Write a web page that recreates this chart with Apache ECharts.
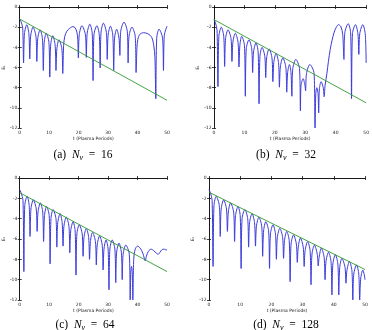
<!DOCTYPE html>
<html><head><meta charset="utf-8">
<script src="https://cdn.jsdelivr.net/npm/echarts@6/dist/echarts.min.js"></script>
<style>html,body{margin:0;padding:0;background:#fff}#c{width:372px;height:330px}</style>
</head><body><div id="c"></div>
<script>
// Energy (log) vs time, as [t, value] points
const curveA = [
[0,-1.2],[0.5,-1.5],[1.0,-2.1],[1.3,-5.55],
[1.6,-2.65],[2.4,-1.75],[3.1,-2.65],[3.4,-5.15],
[3.7,-2.9],[4.5,-2.0],[5.5,-2.9],[5.8,-5.4],
[6.1,-3.15],[6.9,-2.25],[7.7,-3.15],[8.0,-6.3],
[8.3,-3.5],[9.0,-2.6],[9.9,-3.5],[10.2,-6.95],
[10.5,-3.75],[11.2,-2.85],[12.0,-3.75],[12.3,-6.3],
[12.6,-4.15],[13.3,-3.25],[14.3,-4.15],[14.6,-6.6],
[14.9,-3.8],[15.3,-2.9],[16.0,-2.4],[17.0,-2.1],[18.0,-1.95],[18.8,-2.05],[19.4,-2.5],[19.7,-3.2],[19.9,-5.05],
[20.2,-2.75],[21.1,-1.85],[22.3,-2.75],[22.6,-5.0],
[22.9,-2.6],[23.8,-1.7],[24.6,-2.6],[24.9,-7.3],
[25.2,-2.75],[26.2,-1.85],[27.0,-2.75],[27.3,-6.05],
[27.6,-2.5],[28.4,-1.6],[29.4,-2.5],[29.7,-5.2],
[30.0,-2.8],[30.8,-1.9],[31.6,-2.8],[31.9,-6.3],
[32.2,-3.1],[32.9,-2.2],[33.7,-3.1],[34.0,-4.8],
[34.3,-2.4],[35.4,-1.5],[36.5,-2.4],[36.8,-5.55],
[37.1,-2.9],[38.1,-2.0],[39.2,-2.9],[39.5,-6.5],
[39.8,-4.0],[40.1,-3.2],[40.8,-2.7],[42.0,-2.55],[43.5,-2.65],[44.8,-3.0],[45.5,-3.8],[45.9,-5.0],[46.2,-9.1],
[46.5,-3.1],[47.3,-2.2],[48.5,-3.1],[48.8,-6.3],
[49.1,-2.8],[50,-1.9]
];
const curveB = [
[0,-1.25],[0.5,-1.6],[1.0,-2.3],[1.3,-7.9],
[1.6,-2.9],[2.4,-2.0],[3.2,-2.9],[3.5,-5.9],
[3.8,-3.15],[4.6,-2.25],[5.6,-3.15],[5.9,-5.4],
[6.2,-3.5],[7.0,-2.6],[7.9,-3.5],[8.2,-5.95],
[8.5,-3.8],[9.1,-2.9],[10.0,-3.8],[10.3,-8.85],
[10.6,-4.15],[11.5,-3.25],[12.4,-4.15],[12.7,-6.5],
[13.0,-4.45],[13.8,-3.55],[14.5,-4.45],[14.8,-9.6],
[15.1,-4.9],[15.8,-4.0],[16.7,-4.9],[17.0,-7.0],
[17.3,-5.05],[18.1,-4.15],[19.05,-5.05],[19.35,-7.4],
[19.65,-5.5],[20.4,-4.6],[21.2,-5.5],[21.5,-7.95],
[21.8,-5.95],[22.6,-5.05],[23.6,-5.95],[23.9,-8.45],
[24.2,-6.5],[24.8,-5.7],[25.3,-6.5],[25.6,-8.85],
[25.9,-6.1],[26.9,-5.2],[28.1,-6.1],[28.4,-10.3],
[28.6,-7.8],[29.3,-7.1],[29.9,-7.8],[30.1,-8.3],
[30.4,-6.6],[31.5,-5.7],[32.9,-6.6],[33.2,-12],
[33.45,-8.6],[33.8,-8.0],[34.2,-8.6],[34.4,-10.5],
[34.65,-8.1],[35.2,-7.4],[35.9,-8.0],[36.2,-8.9],
[36.5,-7.8],[37.1,-6.6],[37.6,-5.4],[38.2,-4.2],[38.8,-3.3],[39.5,-2.5],[40.2,-2.0],[40.9,-1.75],[41.7,-1.95],[42.3,-2.7],[42.7,-5.2],
[43.0,-2.55],[44.1,-1.65],[44.9,-2.55],[45.2,-9.1],
[45.5,-2.65],[46.5,-1.75],[47.3,-2.65],[47.6,-4.7],
[47.9,-2.65],[48.9,-1.75],[49.7,-2.65],[50,-5.55]
];
const curveC = [
[0,-1.15],[0.5,-1.5],[1.1,-2.2],[1.4,-9.2],
[1.7,-2.7],[2.5,-1.8],[3.2,-2.7],[3.5,-5.75],
[3.8,-3.05],[4.6,-2.15],[5.6,-3.05],[5.9,-5.25],
[6.2,-3.35],[7.0,-2.45],[7.8,-3.35],[8.1,-6.25],
[8.4,-3.7],[9.1,-2.8],[10.0,-3.7],[10.3,-8.45],
[10.6,-4.0],[11.3,-3.1],[12.3,-4.0],[12.6,-6.8],
[12.9,-4.4],[13.7,-3.5],[14.4,-4.4],[14.7,-6.7],
[15.0,-4.75],[15.8,-3.85],[16.7,-4.75],[17.0,-7.35],
[17.3,-5.2],[18.1,-4.3],[18.8,-5.2],[19.1,-9.55],
[19.4,-5.5],[20.2,-4.6],[21.2,-5.5],[21.5,-7.7],
[21.8,-5.85],[22.6,-4.95],[23.4,-5.85],[23.7,-8.0],
[24.0,-6.25],[24.7,-5.35],[25.7,-6.25],[26.0,-8.55],
[26.3,-6.6],[27.1,-5.7],[28.0,-6.6],[28.3,-9.05],
[28.6,-7.0],[29.3,-6.1],[30.0,-7.0],[30.3,-11.0],
[30.6,-7.0],[31.4,-6.1],[32.3,-7.0],[32.6,-10.3],
[32.9,-7.3],[33.7,-6.4],[34.5,-7.3],[34.8,-10.0],
[35.1,-7.5],[36.0,-6.6],[37.2,-7.5],[37.5,-12],
[37.7,-9.3],[37.95,-8.7],[38.2,-9.3],[38.4,-12],
[38.7,-8.0],[39.2,-7.0],[40.0,-6.7],[40.9,-6.9],[41.8,-7.4],[42.3,-7.9],[42.6,-8.15],
[43.0,-7.7],[43.7,-7.2],[44.6,-7.0],[45.5,-7.15],[46.4,-7.4],[47.0,-7.5],
[47.6,-7.3],[48.3,-7.05],[48.9,-7.0],[49.5,-7.05],[50,-7.1]
];
const curveD = [
[0,-1.15],[0.5,-1.5],[1.0,-2.2],[1.3,-8.7],
[1.6,-2.7],[2.3,-1.8],[3.3,-2.7],[3.6,-5.75],
[3.9,-3.05],[4.7,-2.15],[5.6,-3.05],[5.9,-5.25],
[6.2,-3.35],[6.9,-2.45],[7.9,-3.35],[8.2,-6.25],
[8.5,-3.7],[9.3,-2.8],[10.0,-3.7],[10.3,-8.9],
[10.6,-4.0],[11.5,-3.1],[12.4,-4.0],[12.7,-6.8],
[13.0,-4.4],[13.8,-3.5],[14.6,-4.4],[14.9,-6.7],
[15.2,-4.75],[16.0,-3.85],[16.9,-4.75],[17.2,-7.7],
[17.5,-5.2],[18.2,-4.3],[19.1,-5.2],[19.4,-8.9],
[19.7,-5.5],[20.5,-4.6],[21.3,-5.5],[21.6,-8.0],
[21.9,-5.85],[22.7,-4.95],[23.6,-5.85],[23.9,-7.9],
[24.2,-6.15],[24.9,-5.25],[25.7,-6.15],[26.0,-10.2],
[26.3,-6.5],[27.1,-5.6],[28.0,-6.5],[28.3,-8.3],
[28.6,-6.8],[29.3,-5.9],[30.2,-6.8],[30.5,-8.7],
[30.8,-7.15],[31.6,-6.25],[32.4,-7.15],[32.7,-10.5],
[33.0,-7.5],[33.8,-6.6],[34.7,-7.5],[35.0,-8.65],
[35.3,-7.8],[36.0,-6.9],[36.9,-7.8],[37.2,-10.0],
[37.5,-8.2],[38.3,-7.3],[39.1,-8.2],[39.4,-11.5],
[39.7,-8.45],[40.5,-7.55],[41.3,-8.45],[41.6,-11.5],
[41.9,-8.8],[42.6,-7.9],[43.6,-8.8],[43.9,-10.35],
[44.2,-9.1],[45.0,-8.2],[45.8,-9.1],[46.1,-12],
[46.4,-9.45],[47.3,-8.55],[48.0,-9.45],[48.3,-12],
[48.6,-9.95],[49.3,-9.05],[49.75,-9.5],[50,-10.0]
];
// Damping-rate fit lines (endpoints)
const fitT = [0, 50];
const fitA = [-1.2, -9.25];
const fitB = [-1.25, -9.5];
const fitC = [-1.45, -9.2];
const fitD = [-1.4, -9.0];
// Axis ticks
const xTicks = {min: 0, max: 50, interval: 10};
const yTicks = {min: -12, max: 0, interval: 2};
const captions = ['(a)', '(b)', '(c)', '(d)'];
const nvValues = ['16', '32', '64', '128'];
const xName = 't (Plasma Periods)';
const yName = 'E\u2081';

const curves = [curveA, curveB, curveC, curveD];
const fits = [fitA, fitB, fitC, fitD];
const grids = [
  {left: 12, top: 7, width: 155, height: 121},
  {left: 214, top: 7, width: 156, height: 121},
  {left: 12, top: 178, width: 155, height: 122},
  {left: 209, top: 178, width: 156, height: 122}
];
const capPos = [[83, 155], [286, 155], [85, 325], [286, 325]];
const yNameGap = [12, 10, 12, 10];

const lineStyle = {color: '#111', width: 0.8};
const lblFont = {fontSize: 4.5, color: '#222', fontFamily: 'DejaVu Sans'};
const xAxes = [], yAxes = [], series = [], graphics = [];
grids.forEach((g, i) => {
  xAxes.push({gridIndex: i, type: 'value', ...xTicks, position: 'bottom',
    axisLine: {lineStyle}, axisTick: {inside: true, length: 2, lineStyle},
    axisLabel: {...lblFont, margin: 2.5}, splitLine: {show: false},
    name: xName, nameLocation: 'middle', nameGap: 8, nameTextStyle: {...lblFont}});
  xAxes.push({gridIndex: i, type: 'value', ...xTicks, position: 'top',
    axisLine: {lineStyle}, axisTick: {inside: true, length: 2, lineStyle},
    axisLabel: {show: false}, splitLine: {show: false}});
  yAxes.push({gridIndex: i, type: 'value', ...yTicks, position: 'left',
    axisLine: {lineStyle}, axisTick: {inside: true, length: 2, lineStyle},
    axisLabel: {...lblFont, margin: 2.5}, splitLine: {show: false},
    name: yName, nameLocation: 'middle', nameGap: yNameGap[i], nameRotate: 90, nameTextStyle: {...lblFont}});
  yAxes.push({gridIndex: i, type: 'value', ...yTicks, position: 'right',
    axisLine: {lineStyle}, axisTick: {inside: true, length: 2, lineStyle},
    axisLabel: {show: false}, splitLine: {show: false}});
  series.push({type: 'line', xAxisIndex: 2 * i, yAxisIndex: 2 * i, data: curves[i],
    showSymbol: false, smooth: 0.3, lineStyle: {color: '#3a3ad8', width: 1}, z: 3});
  series.push({type: 'line', xAxisIndex: 2 * i, yAxisIndex: 2 * i,
    data: fitT.map((t, k) => [t, fits[i][k]]),
    showSymbol: false, lineStyle: {color: '#2f9a2f', width: 0.9}, z: 4});
  graphics.push({type: 'text', x: capPos[i][0], y: capPos[i][1],
    style: {text: captions[i] + '  {i|N}{s|v}  =  ' + nvValues[i],
      fontSize: 11.5, fontFamily: 'Liberation Serif', fill: '#000', lineHeight: 14,
      align: 'center', verticalAlign: 'middle',
      rich: {i: {fontSize: 11.5, fontStyle: 'italic', fontFamily: 'Liberation Serif', lineHeight: 14},
             s: {fontSize: 8, fontStyle: 'italic', fontFamily: 'Liberation Serif', lineHeight: 8, verticalAlign: 'bottom'}}}});
});

const chart = echarts.init(document.getElementById('c'), null, {renderer: 'canvas'});
chart.setOption({animation: false, grid: grids, xAxis: xAxes, yAxis: yAxes, series, graphic: graphics});
</script></body></html>
